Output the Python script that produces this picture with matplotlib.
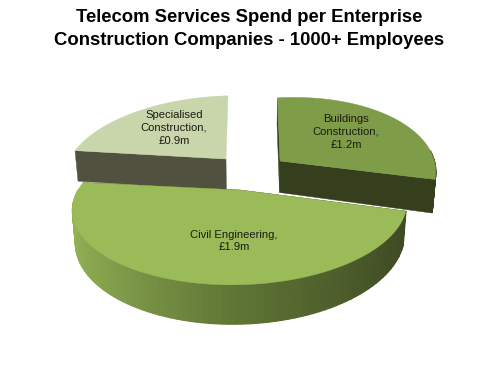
import numpy as np
import matplotlib
matplotlib.use("Agg")
import matplotlib.pyplot as plt
from matplotlib.colors import to_rgb

plt.rcParams['font.family'] = ['Liberation Sans', 'DejaVu Sans']

# data
categories = ["Buildings\nConstruction", "Civil Engineering", "Specialised\nConstruction"]
values = [1.2, 1.9, 0.9]
title = "Telecom Services Spend per Enterprise\nConstruction Companies - 1000+ Employees"

# style
top_colors = ["#7f9c48", "#9bbb59", "#c9d5ab"]
cut_colors = ["#363f1d", "#3c4722", "#50513f"]
tips = [(280, 161), (240, 190), (226, 159)]
radii_x = [152, 164, 158]
shears = [0.045, 0.025, 0.02]
label_pos = [(346, 132), (234, 241), (174, 128)]
draw_order = [2, 0, 1]
RY, K, DEPTH, VX, NARROW, CONVERGE = 75.8, 0.2, 31.5, 250, 0.983, 0.5


def project(i, a, r=1.0):
    tip = tips[i]
    X, Y = r * np.sin(a), r * np.cos(a)
    w = 1 + K * Y
    x = tip[0] + X * radii_x[i] / w + CONVERGE * (tip[0] - VX) * (1 / w - 1)
    y = tip[1] - Y * RY / w - shears[i] * X * radii_x[i]
    return x, y, w


def lower(x, y, w):
    return VX + (x - VX) * NARROW, y + DEPTH / w


fig = plt.figure(figsize=(5, 3.69), dpi=100)
ax = fig.add_axes([0, 0, 1, 1])
ax.set_xlim(0, 500)
ax.set_ylim(369, 0)
ax.axis("off")

fractions = np.array(values) / sum(values)
edges = np.concatenate([[0], np.cumsum(fractions)]) * 2 * np.pi
c_left, c_mid, c_right = map(np.array, map(to_rgb, ("#94b356", "#5f7535", "#3c4722")))


def wall_color(a, base, is_main):
    if not is_main:
        return base
    t = (np.sin(a) + 1) / 2  # 0 on the left, 1 on the right
    if t < 0.5:
        return tuple(c_left + (c_mid - c_left) * (t / 0.5))
    return tuple(c_mid + (c_right - c_mid) * ((t - 0.5) / 0.5))


for i in draw_order:
    a0, a1 = edges[i], edges[i + 1]
    angles = np.linspace(a0, a1, 90)
    xs, ys, ws = project(i, angles)
    bx, by = lower(xs, ys, ws)
    tx, ty, tw = project(i, 0.0, 0.0)
    tbx, tby = lower(tx, ty, tw)
    z = draw_order.index(i) * 3
    # cut faces: the specialised slice only shows its left-hand one
    for k in ((0, -1) if i != 2 else (0,)):
        ax.fill([tx, xs[k], bx[k], tbx], [ty, ys[k], by[k], tby],
                color=cut_colors[i], lw=0.3, zorder=1 + z)
    # outer rim, only on the front half
    for j in range(len(angles) - 1):
        if np.cos(angles[j]) < 0.05:
            ax.fill([xs[j], xs[j + 1], bx[j + 1], bx[j]], [ys[j], ys[j + 1], by[j + 1], by[j]],
                    color=wall_color(angles[j], cut_colors[i], i == 1), lw=0.9, zorder=1 + z)
    # top face
    ax.fill(np.r_[tx, xs], np.r_[ty, ys], color=top_colors[i], lw=0.3, zorder=2 + z)
    ax.text(*label_pos[i], f"{categories[i]},\n£{values[i]}m", ha="center", va="center",
            fontsize=8.15, color="#1c1c14", linespacing=1.35, zorder=20)

ax.text(249, 29, title, ha="center", va="center", fontsize=13.3, fontweight="bold",
        color="black", linespacing=1.42, zorder=20)

fig.savefig("out.png", dpi=100)
